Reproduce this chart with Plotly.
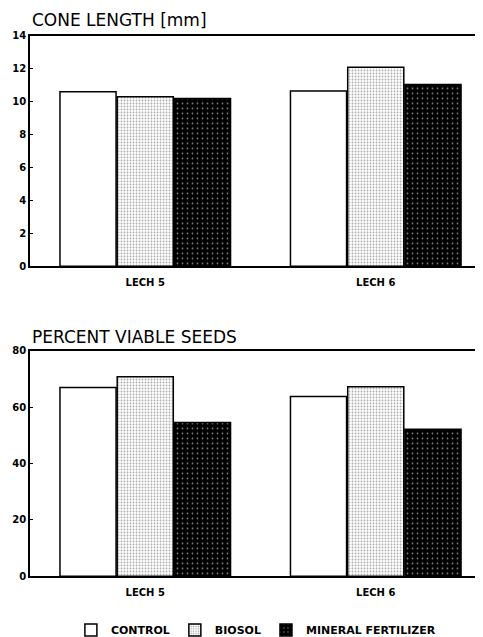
import plotly.graph_objects as go

categories = ["LECH 5", "LECH 6"]
series_names = ["CONTROL", "BIOSOL", "MINERAL FERTILIZER"]
cone_control = [10.6, 10.65]
cone_biosol = [10.3, 12.1]
cone_mineral = [10.2, 11.05]
seeds_control = [67.0, 63.8]
seeds_biosol = [70.8, 67.3]
seeds_mineral = [54.6, 52.2]
cone_ticks = [0, 2, 4, 6, 8, 10, 12, 14]
seeds_ticks = [0, 20, 40, 60, 80]

W, H = 483, 637
OFF = 8  # default page body margin
FONT = "DejaVu Sans"

styles = [
    dict(color="white", pattern=dict(shape="")),
    dict(color="white", pattern=dict(shape=".", fgcolor="#555", bgcolor="white", size=3, solidity=0.3)),
    dict(color="black", pattern=dict(shape=".", fgcolor="white", bgcolor="black", size=5, solidity=0.1)),
]

fig = go.Figure()
cone = [cone_control, cone_biosol, cone_mineral]
seeds = [seeds_control, seeds_biosol, seeds_mineral]
for i, name in enumerate(series_names):
    st = styles[i]
    for xa, ya, vals, show in (("x", "y", cone[i], True), ("x2", "y2", seeds[i], False)):
        fig.add_trace(go.Bar(
            x=categories, y=vals, name=f"<b>{name}</b>", legendgroup=name,
            xaxis=xa, yaxis=ya, showlegend=show,
            marker=dict(color=st["color"], pattern=st["pattern"], line=dict(color="black", width=1.5)),
        ))

def py(p):
    return 1 - (p - OFF) / H

axis_common = dict(showgrid=False, zeroline=False, showline=True, linecolor="black", linewidth=1.5)
tickfont = dict(family=FONT, size=10, color="black")
xcommon = dict(axis_common, range=[-0.5, 1.5], mirror=True, ticks="",
               tickfont=tickfont, automargin=False, ticklabelstandoff=6)
ycommon = dict(axis_common, ticks="inside", ticklen=3, tickwidth=1, tickcolor="black",
               tickfont=tickfont, automargin=False)

fig.update_layout(
    width=W, height=H,
    margin=dict(l=30 - OFF, r=0, t=0, b=0),
    paper_bgcolor="white", plot_bgcolor="white",
    barmode="group", bargap=0.255, bargroupgap=0.02,
    font=dict(family=FONT, color="black"),
    xaxis=dict(xcommon, anchor="y", domain=[0, 1],
               tickvals=categories, ticktext=["<b>LECH 5</b>", "<b>LECH 6</b>"]),
    yaxis=dict(ycommon, anchor="x", domain=[py(267), py(36)], range=[0, 14],
               tickvals=cone_ticks, ticktext=[f"<b>{t}</b>" for t in cone_ticks]),
    xaxis2=dict(xcommon, anchor="y2", domain=[0, 1],
                tickvals=categories, ticktext=["<b>LECH 5</b>", "<b>LECH 6</b>"]),
    yaxis2=dict(ycommon, anchor="x2", domain=[py(578), py(352)], range=[0, 80],
                tickvals=seeds_ticks, ticktext=[f"<b>{t}</b>" for t in seeds_ticks]),
    legend=dict(orientation="h", x=0.49, xanchor="center", y=py(632), yanchor="middle",
                font=dict(family=FONT, size=11, color="black"), traceorder="normal",
                itemwidth=30, bgcolor="rgba(0,0,0,0)"),
    annotations=[
        dict(text="CONE LENGTH [mm]", xref="paper", yref="paper", x=0, y=py(20),
             xanchor="left", yanchor="middle", showarrow=False,
             font=dict(family=FONT, size=17, color="black")),
        dict(text="PERCENT VIABLE SEEDS", xref="paper", yref="paper", x=0, y=py(338),
             xanchor="left", yanchor="middle", showarrow=False,
             font=dict(family=FONT, size=17, color="black")),
    ],
)

fig.write_html("out.html")
